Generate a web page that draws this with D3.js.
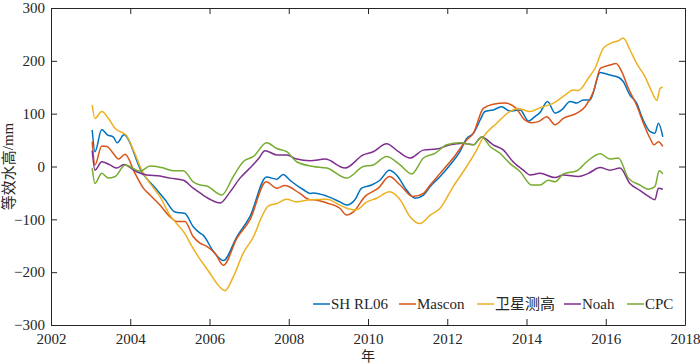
<!DOCTYPE html>
<html>
<head>
<meta charset="utf-8">
<script src="https://cdn.jsdelivr.net/npm/d3@7"></script>
<style>
  body { margin: 0; background: #fff; }
  svg text { font-family: "Liberation Serif", "Times New Roman", serif; fill: #262626; }
  .cjk { font-family: "Noto Sans CJK SC", sans-serif; }
</style>
</head>
<body>
<div id="chart"></div>
<script>
// series: [year, mm]
const shRL06 = [[2003.04,69],[2003.11,28],[2003.28,70],[2003.42,60],[2003.57,56],[2003.67,45],[2003.84,60],[2004.29,-10],[2004.67,-44],[2004.88,-63],[2005.13,-86],[2005.38,-89],[2005.59,-114],[2005.76,-126],[2005.84,-130],[2006.10,-161],[2006.35,-178],[2006.69,-133],[2007.02,-95],[2007.44,-20],[2007.70,-24],[2007.86,-15],[2008.03,-26],[2008.37,-44],[2008.54,-51],[2008.62,-50],[2008.96,-56],[2009.29,-67],[2009.46,-73],[2009.67,-63],[2009.84,-41],[2010.09,-35],[2010.30,-26],[2010.54,-7],[2010.72,-16],[2010.98,-45],[2011.19,-60],[2011.40,-54],[2011.57,-38],[2011.82,-19],[2012.07,3],[2012.32,28],[2012.49,53],[2012.66,63],[2012.83,88],[2012.95,104],[2013.16,107],[2013.37,113],[2013.58,105],[2013.84,107],[2014.05,86],[2014.22,95],[2014.34,102],[2014.53,123],[2014.72,101],[2014.89,107],[2015.10,123],[2015.27,120],[2015.43,126],[2015.60,126],[2015.86,178],[2016.11,173],[2016.32,169],[2016.44,161],[2016.61,135],[2016.78,120],[2016.91,94],[2017.12,66],[2017.24,63],[2017.33,82],[2017.44,56]];

const mascon = [[2003.04,47],[2003.11,3],[2003.28,39],[2003.41,38],[2003.57,25],[2003.70,14],[2003.87,23],[2004.12,-13],[2004.33,-41],[2004.50,-54],[2004.75,-73],[2005.00,-95],[2005.17,-104],[2005.38,-104],[2005.59,-133],[2005.76,-145],[2005.93,-151],[2006.14,-164],[2006.35,-187],[2006.69,-136],[2007.02,-101],[2007.43,-29],[2007.70,-41],[2007.90,-36],[2008.28,-51],[2008.54,-63],[2008.62,-63],[2008.96,-69],[2009.29,-79],[2009.46,-92],[2009.63,-86],[2009.92,-57],[2010.26,-41],[2010.54,-19],[2010.81,-35],[2011.14,-57],[2011.40,-51],[2011.57,-35],[2011.82,-13],[2012.15,16],[2012.49,50],[2012.66,63],[2012.91,110],[2013.16,118],[2013.46,120],[2013.74,110],[2013.92,91],[2014.13,83],[2014.30,85],[2014.51,94],[2014.72,79],[2014.93,91],[2015.27,101],[2015.48,113],[2015.69,142],[2015.87,186],[2016.11,192],[2016.26,195],[2016.40,180],[2016.57,148],[2016.78,116],[2016.95,82],[2017.12,53],[2017.22,41],[2017.33,47],[2017.44,38]];

const altimetry = [[2003.04,116],[2003.11,91],[2003.28,104],[2003.45,91],[2003.62,72],[2003.83,63],[2003.89,60],[2004.08,31],[2004.29,-7],[2004.50,-32],[2004.75,-57],[2005.00,-92],[2005.17,-108],[2005.38,-127],[2005.51,-145],[2005.72,-171],[2006.01,-202],[2006.18,-221],[2006.39,-235],[2006.60,-209],[2006.85,-164],[2007.11,-133],[2007.32,-95],[2007.48,-75],[2007.70,-70],[2007.95,-62],[2008.20,-67],[2008.54,-63],[2008.96,-62],[2009.29,-73],[2009.55,-81],[2009.71,-82],[2009.97,-67],[2010.22,-60],[2010.54,-48],[2010.81,-63],[2011.06,-95],[2011.31,-108],[2011.57,-92],[2011.82,-79],[2012.15,-38],[2012.49,0],[2012.74,31],[2012.91,56],[2013.25,82],[2013.58,104],[2013.79,110],[2014.09,104],[2014.34,111],[2014.42,113],[2014.68,120],[2014.97,135],[2015.18,145],[2015.31,144],[2015.56,167],[2015.73,186],[2015.94,224],[2016.15,234],[2016.32,238],[2016.44,243],[2016.61,221],[2016.78,195],[2016.99,170],[2017.16,142],[2017.29,125],[2017.37,148],[2017.44,150]];

const noah = [[2003.04,30],[2003.11,-7],[2003.28,9],[2003.49,3],[2003.66,-3],[2003.84,4],[2004.16,-10],[2004.42,-16],[2004.75,-18],[2005.00,-22],[2005.34,-26],[2005.59,-41],[2005.76,-50],[2006.01,-62],[2006.27,-69],[2006.52,-48],[2006.77,-22],[2007.02,-3],[2007.23,14],[2007.40,30],[2007.70,22],[2007.95,22],[2008.20,14],[2008.54,11],[2008.92,14],[2009.42,-3],[2009.88,22],[2010.13,28],[2010.47,43],[2010.77,28],[2011.06,16],[2011.40,31],[2011.73,33],[2012.07,41],[2012.40,44],[2012.66,41],[2012.87,56],[2013.16,41],[2013.42,31],[2013.66,9],[2013.92,-7],[2014.09,-16],[2014.34,-13],[2014.72,-21],[2014.93,-16],[2015.31,-19],[2015.56,-13],[2015.86,-2],[2016.11,-7],[2016.36,-3],[2016.61,-32],[2016.86,-45],[2017.07,-56],[2017.24,-63],[2017.33,-41],[2017.44,-43]];

const cpc = [[2003.04,-3],[2003.11,-32],[2003.28,-13],[2003.45,-22],[2003.62,-19],[2003.87,3],[2004.25,-9],[2004.50,1],[2004.79,-2],[2005.09,-8],[2005.34,-8],[2005.59,-29],[2005.76,-35],[2005.93,-37],[2006.31,-54],[2006.60,-19],[2006.85,9],[2007.11,19],[2007.44,45],[2007.70,34],[2007.95,28],[2008.20,9],[2008.62,0],[2008.96,-3],[2009.46,-22],[2009.88,0],[2010.13,3],[2010.47,19],[2010.81,3],[2011.10,-14],[2011.40,16],[2011.69,25],[2011.99,41],[2012.32,45],[2012.66,41],[2012.87,56],[2013.08,38],[2013.33,25],[2013.58,6],[2013.84,-10],[2014.13,-35],[2014.34,-35],[2014.55,-26],[2014.72,-29],[2014.93,-14],[2015.27,-8],[2015.52,9],[2015.86,24],[2016.11,14],[2016.32,16],[2016.57,-22],[2016.86,-35],[2017.07,-43],[2017.24,-38],[2017.35,-8],[2017.44,-14]];

const seriesNames = ["SH RL06", "Mascon", "卫星测高", "Noah", "CPC"];
const seriesData = [shRL06, mascon, altimetry, noah, cpc];
const seriesColors = ["#0072BD", "#D95319", "#EDB120", "#7E2F8E", "#77AC30"];

const xTicks = [2002, 2004, 2006, 2008, 2010, 2012, 2014, 2016, 2018];
const yTicks = [-300, -200, -100, 0, 100, 200, 300];

const W = 700, H = 363;
const margin = { top: 8, right: 15, bottom: 38, left: 51 };
const width = W - margin.left - margin.right;
const height = H - margin.top - margin.bottom;
const axisColor = "#262626";

const svg = d3.select("#chart")
  .append("svg")
  .attr("width", W)
  .attr("height", H)
  .append("g")
  .attr("transform", `translate(${margin.left},${margin.top})`);

const xScale = d3.scaleLinear().domain([2002, 2018]).range([0, width]);
const yScale = d3.scaleLinear().domain([-300, 300]).range([height, 0]);

// lines (clipped to plot box)
svg.append("clipPath").attr("id", "clip")
  .append("rect").attr("width", width).attr("height", height);

const line = d3.line()
  .curve(d3.curveMonotoneX)
  .x(d => xScale(d[0]))
  .y(d => yScale(d[1]));

const linesGroup = svg.append("g").attr("clip-path", "url(#clip)");
seriesData.forEach((data, i) => {
  linesGroup.append("path")
    .datum(data)
    .attr("fill", "none")
    .attr("stroke", seriesColors[i])
    .attr("stroke-width", 1.5)
    .attr("stroke-linejoin", "round")
    .attr("d", line);
});

// axes, ticks pointing inward on all four sides
function styleAxis(g) {
  g.selectAll("path, line").attr("stroke", axisColor);
  g.selectAll("text").attr("font-size", 15).attr("fill", axisColor)
    .style("font-family", '"Liberation Serif", serif');
}

svg.append("g")
  .attr("transform", `translate(0,${height})`)
  .call(d3.axisBottom(xScale).tickValues(xTicks).tickFormat(d3.format("d")).tickSizeInner(-6).tickSizeOuter(0).tickPadding(8))
  .call(styleAxis);

svg.append("g")
  .call(d3.axisTop(xScale).tickValues(xTicks).tickFormat("").tickSizeInner(-6).tickSizeOuter(0))
  .call(styleAxis);

svg.append("g")
  .call(d3.axisLeft(yScale).tickValues(yTicks).tickSizeInner(-6).tickSizeOuter(0).tickPadding(6))
  .call(styleAxis);

svg.append("g")
  .attr("transform", `translate(${width},0)`)
  .call(d3.axisRight(yScale).tickValues(yTicks).tickFormat("").tickSizeInner(-6).tickSizeOuter(0))
  .call(styleAxis);

// axis labels
svg.append("text")
  .attr("transform", `translate(${-41},${height / 2}) rotate(-90)`)
  .attr("text-anchor", "middle")
  .attr("dominant-baseline", "middle")
  .attr("font-size", 15)
  .selectAll("tspan")
  .data([["等效水高", true], ["/mm", false]])
  .join("tspan")
  .attr("class", d => d[1] ? "cjk" : null)
  .text(d => d[0]);

svg.append("text")
  .attr("class", "cjk")
  .attr("x", width / 2)
  .attr("y", height + 36)
  .attr("text-anchor", "middle")
  .attr("font-size", 14)
  .text("年");

// legend along the bottom of the plot
const legendX = [262, 348, 426, 513, 576];
const legendY = height - 21;
const legend = svg.append("g");
seriesNames.forEach((name, i) => {
  const g = legend.append("g").attr("transform", `translate(${legendX[i]},${legendY})`);
  g.append("line")
    .attr("x1", 0).attr("x2", 17)
    .attr("stroke", seriesColors[i])
    .attr("stroke-width", 1.5);
  g.append("text")
    .attr("class", i === 2 ? "cjk" : null)
    .attr("x", 18)
    .attr("dy", "0.35em")
    .attr("font-size", 15)
    .text(name);
});
</script>
</body>
</html>
